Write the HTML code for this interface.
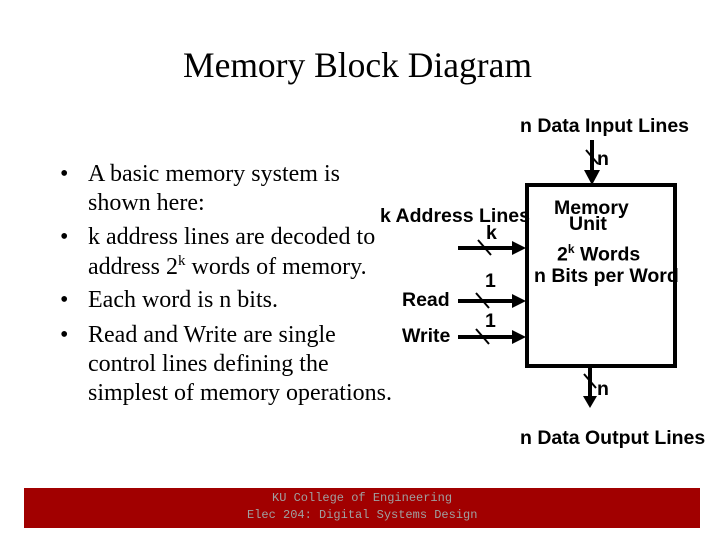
<!DOCTYPE html>
<html><head><style>
body{margin:0;width:720px;height:540px;background:#fff;position:relative;overflow:hidden;font-family:"Liberation Serif",serif}
.t{position:absolute;white-space:nowrap}
.b{font-family:"Liberation Sans",sans-serif;font-weight:bold;font-size:19.5px}
.s{font-size:24px;color:#000}
</style></head><body>
<div class="t" style="left:183px;top:44px;font-size:35.5px">Memory Block Diagram</div>
<div class="t b" style="left:520px;top:115px">n Data Input Lines</div>
<div class="t b" style="left:520px;top:427px">n Data Output Lines</div>
<div class="t s" style="left:60px;top:161px">•</div><div class="t s" style="left:88px;top:161px">A basic memory system is</div>
<div class="t s" style="left:88px;top:190px">shown here:</div>
<div class="t s" style="left:60px;top:224px">•</div><div class="t s" style="left:88px;top:224px">k address lines are decoded to</div>
<div class="t s" style="left:88px;top:253px">address 2<sup style="font-size:15px">k</sup> words of memory.</div>
<div class="t s" style="left:60px;top:287px">•</div><div class="t s" style="left:88px;top:287px">Each word is n bits.</div>
<div class="t s" style="left:60px;top:322px">•</div><div class="t s" style="left:88px;top:322px">Read and Write are single</div>
<div class="t s" style="left:88px;top:351px">control lines defining the</div>
<div class="t s" style="left:88px;top:380px">simplest of memory operations.</div>
<svg width="720" height="540" style="position:absolute;left:0;top:0">
<rect x="527" y="185" width="148" height="181" fill="#fff" stroke="#000" stroke-width="4"/>
<g stroke="#000" stroke-width="4">
<line x1="592" y1="140" x2="592" y2="172"/>
<line x1="590" y1="368" x2="590" y2="396"/>
<line x1="458" y1="248" x2="512" y2="248"/>
<line x1="458" y1="301" x2="512" y2="301"/>
<line x1="458" y1="337" x2="512" y2="337"/>
</g>
<g stroke="#000" stroke-width="2">
<line x1="586" y1="150" x2="598" y2="164"/>
<line x1="584" y1="374" x2="596" y2="388"/>
<line x1="478" y1="240" x2="491" y2="255"/>
<line x1="476" y1="293" x2="489" y2="308"/>
<line x1="476" y1="329" x2="489" y2="344"/>
</g>
<g fill="#000">
<polygon points="584,170 600,170 592,185"/>
<polygon points="512,241 512,255 526,248"/>
<polygon points="512,294 512,308 526,301"/>
<polygon points="512,330 512,344 526,337"/>
<polygon points="583,396 597,396 590,408"/>
</g>
<rect x="24" y="488" width="676" height="40" fill="#a10000"/>
</svg>
<div class="t b" style="left:597px;top:148px">n</div>
<div class="t b" style="left:597px;top:378px">n</div>
<div class="t b" style="left:380px;top:205px">k Address Lines</div>
<div class="t b" style="left:486px;top:222px">k</div>
<div class="t b" style="left:485px;top:270px">1</div>
<div class="t b" style="left:485px;top:310px">1</div>
<div class="t b" style="left:402px;top:289px">Read</div>
<div class="t b" style="left:402px;top:325px">Write</div>
<div class="t b" style="left:554px;top:197px">Memory</div>
<div class="t b" style="left:569px;top:213px">Unit</div>
<div class="t b" style="left:557px;top:242px">2<sup style="font-size:12px">k</sup> Words</div>
<div class="t b" style="left:534px;top:265px">n Bits per Word</div>
<div class="t" style="left:272px;top:491px;font-family:'Liberation Mono',monospace;font-size:12px;color:#a0a0a0">KU College of Engineering</div>
<div class="t" style="left:247px;top:508px;font-family:'Liberation Mono',monospace;font-size:12px;color:#a0a0a0">Elec 204: Digital Systems Design</div>
</body></html>
